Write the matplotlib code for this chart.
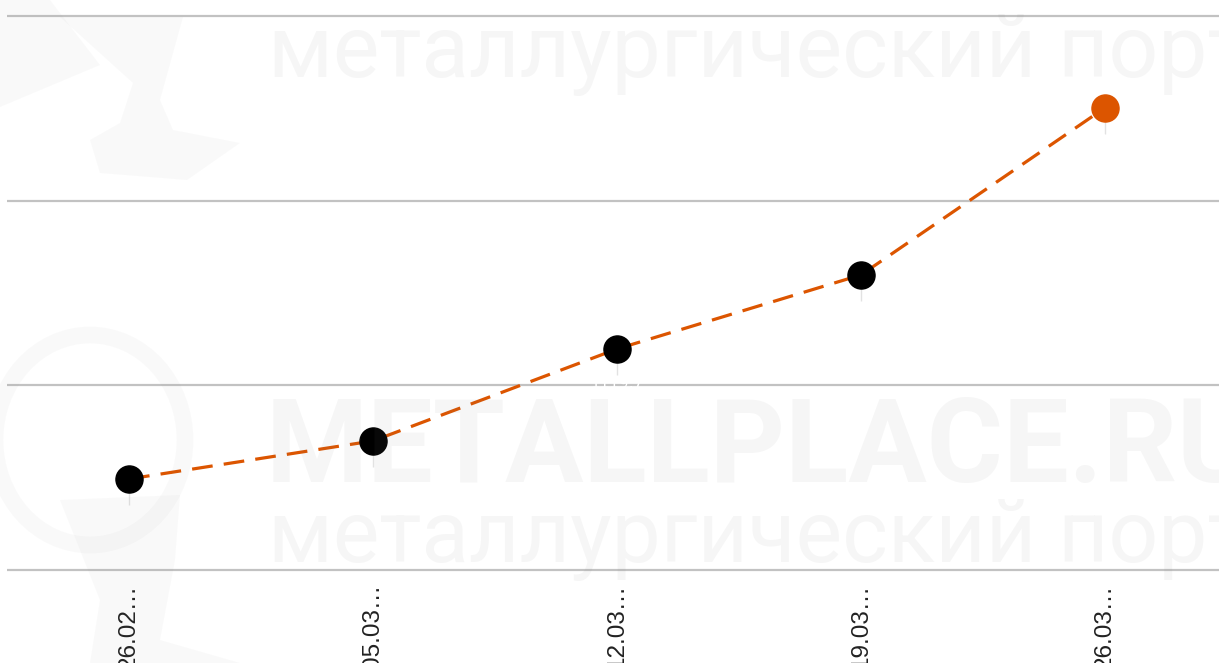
import matplotlib
matplotlib.use('Agg')
from matplotlib import pyplot as plt
from matplotlib.patches import Polygon, Ellipse

# Chart data (y has no labels so units are arbitrary)
dates = ['26.02…', '05.03…', '12.03…', '19.03…', '26.03…']
prices = [1049.3, 1069.9, 1119.7, 1159.8, 1250.3]
grid_values = [1000, 1100, 1200, 1300]

ORANGE = '#dc5500'
W, H = 1219, 663

fig = plt.figure(figsize=(W / 100, H / 100), dpi=100)

# Main plot
ax = fig.add_axes([7 / W, 93 / H, 1212 / W, 554 / H])
ax.patch.set_alpha(0)
x = list(range(len(dates)))
xmax = -0.5 + 1212 / 244
ax.set_xlim(-0.5, xmax)
ax.set_ylim(grid_values[0], grid_values[-1])

ax.hlines(grid_values, -0.5, xmax, colors='#c2c2c2', lw=1.6, clip_on=False, zorder=1)

# thin drop lines under markers
ax.vlines(x, [p - 14 for p in prices], prices, colors='#e2e2e2', lw=1, zorder=2)

ax.plot(x, prices, color=ORANGE, lw=2.3, linestyle=(0, (6.5, 3.5)), zorder=3)
ax.scatter(x[:-1], prices[:-1], s=19.5 ** 2, color='black', zorder=4)
ax.scatter(x[-1:], prices[-1:], s=19.5 ** 2, color=ORANGE, zorder=4)

# value labels (white, only visible where they cross a gridline)
for xi, p in zip(x, prices):
    ax.text(xi, p - 18.5, f'{p:.1f}'.replace('.', ','), color='white',
            fontsize=11, ha='center', va='center', zorder=2)

ax.set_xticks(x)
ax.set_xticklabels(dates, rotation=90, fontsize=17.5, family='Liberation Sans',
                   color='#222222', va='top', ha='center')
ax.tick_params(axis='x', length=0, pad=10)
ax.set_yticks([])
for s in ax.spines.values():
    s.set_visible(False)

# Watermark overlay in pixel coords, drawn over the chart
wm = fig.add_axes([0, 0, 1, 1], zorder=5)
wm.set_xlim(0, W)
wm.set_ylim(H, 0)
wm.axis('off')
wm.patch.set_alpha(0)

logo = dict(color='#7a7a7a', alpha=0.04, lw=0)
wm.add_patch(Polygon([(0, 0), (50, 0), (100, 65), (0, 107)], **logo))
wm.add_patch(Polygon([(60, 17), (133, 83), (120, 123), (90, 140), (100, 173),
                      (187, 180), (240, 143), (173, 130), (160, 100), (183, 17)],
                     **logo))
wm.add_patch(Ellipse((90, 440), 190, 210, fill=False, ec='#7a7a7a', alpha=0.04, lw=12))
wm.add_patch(Polygon([(60, 500), (180, 495), (175, 560), (160, 640), (240, 663),
                      (90, 663), (100, 600)], **logo))

txt = dict(family='Roboto', color='#7a7a7a', alpha=0.065, va='baseline', ha='left')
wm.text(268, 77, 'металлургический портал', fontsize=63, **txt)
wm.text(266, 482, 'METALLPLACE.RU', fontsize=84, fontweight='bold', **txt)
wm.text(268, 562, 'металлургический портал', fontsize=63, **txt)

fig.savefig('out.png', dpi=100)
